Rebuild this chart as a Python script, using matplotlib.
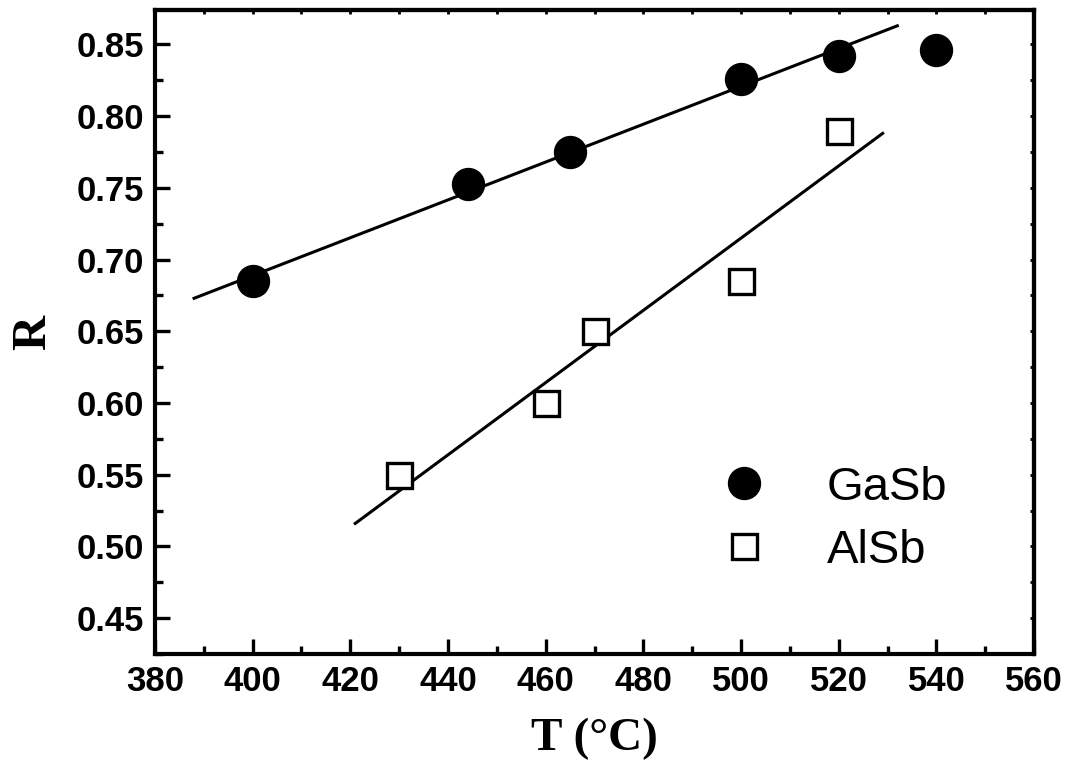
import matplotlib
matplotlib.use('Agg')
import matplotlib.pyplot as plt
from matplotlib.ticker import MultipleLocator

# data
t_gasb = [400, 444, 465, 500, 520, 540]
r_gasb = [0.685, 0.753, 0.775, 0.826, 0.842, 0.846]
t_alsb = [430, 460, 470, 500, 520]
r_alsb = [0.550, 0.600, 0.650, 0.685, 0.790]

# linear fit lines (end points)
fit_gasb_t = [388, 532]
fit_gasb_r = [0.673, 0.863]
fit_alsb_t = [421, 529]
fit_alsb_r = [0.516, 0.788]

x_ticks = [380, 400, 420, 440, 460, 480, 500, 520, 540, 560]
y_ticks = [0.45, 0.50, 0.55, 0.60, 0.65, 0.70, 0.75, 0.80, 0.85]

fig = plt.figure(figsize=(10.71, 7.60), dpi=100)
ax = fig.add_axes([0.1447, 0.1395, 0.8208, 0.8473])

ax.plot(fit_gasb_t, fit_gasb_r, color='black', lw=2.2, zorder=2)
ax.plot(fit_alsb_t, fit_alsb_r, color='black', lw=2.2, zorder=2)
ax.plot(t_gasb, r_gasb, 'o', color='black', ms=23, ls='none', label='GaSb', zorder=3)
ax.plot(t_alsb, r_alsb, 's', mfc='white', mec='black', mew=2.4, ms=18, ls='none',
        label='AlSb', zorder=3)

ax.set_xlim(380, 560)
ax.set_ylim(0.425, 0.874)
ax.set_xticks(x_ticks)
ax.set_yticks(y_ticks)
ax.set_xticklabels([str(v) for v in x_ticks])
ax.set_yticklabels(['%.2f' % v for v in y_ticks])
ax.xaxis.set_minor_locator(MultipleLocator(10))
ax.yaxis.set_minor_locator(MultipleLocator(0.025))

for s in ax.spines.values():
    s.set_linewidth(3)

ax.tick_params(which='major', direction='in', length=11, width=2.4, pad=8)
ax.tick_params(which='minor', direction='in', length=6, width=2.4)
ax.tick_params(top=False, right=False)
for lab in ax.get_xticklabels() + ax.get_yticklabels():
    lab.set_fontfamily('Liberation Sans')
    lab.set_fontweight('bold')
    lab.set_fontsize(25)

# short ticks on top and right
top = ax.secondary_xaxis('top')
top.set_xticks(list(range(380, 561, 10)))
top.tick_params(direction='in', length=3, width=2, labeltop=False)
right = ax.secondary_yaxis('right')
right.set_yticks([0.425 + 0.025 * i for i in range(19)])
right.tick_params(direction='in', length=3, width=2, labelright=False)
top.spines['top'].set_linewidth(3)
right.spines['right'].set_linewidth(3)

ax.set_xlabel('T (\u00b0C)', fontfamily='Liberation Serif', fontweight='bold',
              fontsize=34, labelpad=14)
ax.set_ylabel('R', fontfamily='Liberation Serif', fontweight='bold',
              fontsize=35, labelpad=15)

ax.legend(loc='center left', bbox_to_anchor=(0.6166, 0.209), frameon=False,
          prop={'family': 'Liberation Sans', 'size': 34}, numpoints=1,
          handlelength=2, handletextpad=0.75, labelspacing=0.4,
          borderpad=0, borderaxespad=0)

fig.savefig('out.png', dpi=100)
